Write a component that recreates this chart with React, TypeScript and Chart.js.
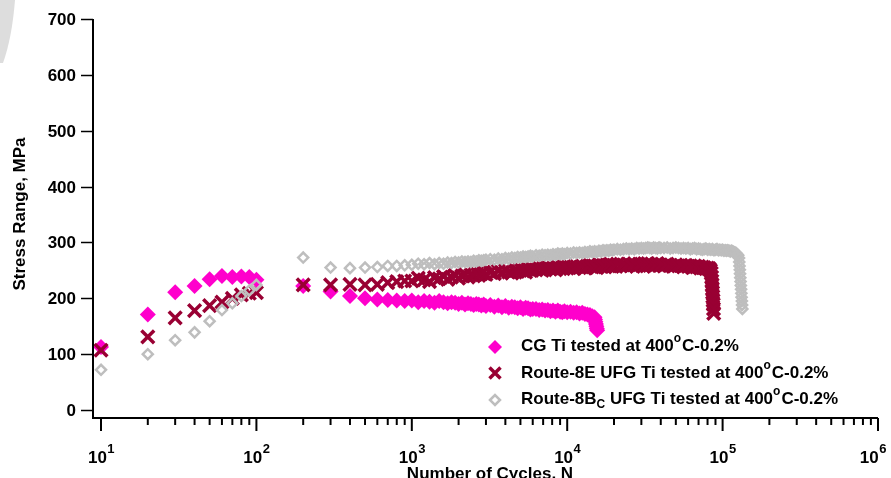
import React, { useEffect, useRef } from 'react';
import { Chart, registerables } from 'chart.js';

Chart.register(...registerables);

// Cycle counts at which stress range was logged
const earlyCycles = [10, 20, 30, 40, 50, 60, 70, 80, 90, 100, 200, 300, 400, 500, 600, 700, 800, 900];
const runCycles = [
  // 1000 – 3000
  1000, 1100, 1200, 1300, 1400, 1500, 1600, 1700, 1800, 1900, 2000,
  2100, 2200, 2300, 2400, 2500, 2600, 2700, 2800, 2900, 3000,
  // 3200 – 6000
  3200, 3400, 3600, 3800, 4000, 4200, 4400, 4600, 4800, 5000,
  5200, 5400, 5600, 5800, 6000,
  // 6300 – 10000
  6300, 6600, 6900, 7200, 7500, 7800, 8100, 8400, 8700, 9000,
  9300, 9600, 10000,
  // 10500 – 20000
  10500, 11000, 11500, 12000, 12500, 13000, 13500, 14000, 14500, 15000,
  15500, 16000, 16500, 17000, 17500, 18000, 18500, 19000, 19500, 20000,
  // 21000 – 40000
  21000, 22000, 23000, 24000, 25000, 26000, 27000, 28000, 29000, 30000,
  31000, 32000, 33000, 34000, 35000, 36000, 37000, 38000, 39000, 40000,
  // 42000 – 80000
  42000, 44000, 46000, 48000, 50000, 52000, 54000, 56000, 58000, 60000,
  62000, 64000, 66000, 68000, 70000, 72000, 74000, 76000, 78000, 80000,
  // 82000 – 126000
  82000, 84000, 86000, 88000, 90000, 92000, 94000, 96000, 98000, 100000,
  102000, 104000, 106000, 108000, 110000, 112000, 114000, 116000, 118000, 120000,
  122000, 124000, 126000,
];

// CG Ti (MPa)
const cgEarly = [113, 171, 211, 222, 234, 240, 238, 239, 238, 233, 222, 212, 204, 200, 198, 197, 196, 195];
const cgRun = [
  196, 193, 195, 194, 192, 195, 193, 191, 193, 192, 190, 192, 189, 191, 190, 188, 190, 189, 187, 189, 186,
  188, 185, 187, 184, 186, 183, 185, 184, 182, 184, 181, 183, 182, 180, 181,
  181, 179, 180, 178, 179, 177, 178, 176, 178, 176, 175, 177, 175,
  176, 174, 175, 173, 174, 172, 171, 170, 168,
];
const cgTailCycles = [15000, 15100, 15200, 15300, 15400, 15500, 15600];
const cgTailStress = [166, 162, 158, 154, 150, 146, 143];

// Route-8E UFG Ti (MPa)
const r8eEarly = [107, 131, 165, 178, 187, 193, 200, 206, 209, 210, 224, 224, 225, 224, 225, 228, 230, 231];
const r8eRun = [
  231, 236, 233, 230, 237, 235, 239, 234, 238, 241, 236, 240, 243, 238, 242, 240, 245, 241, 244, 247, 243,
  247, 244, 249, 246, 250, 247, 245, 250, 248, 252, 249, 247, 252, 250, 253,
  251, 254, 250, 253, 255, 252, 254, 251, 256, 253, 255, 257, 254,
  256, 253, 257, 255, 258, 254, 257, 259, 256, 258, 255, 260, 257, 259, 256, 260, 258, 261, 257, 259,
  261, 258, 260, 257, 261, 259, 262, 258, 260, 261, 257, 260, 262, 259, 261, 258, 260, 262, 259, 260,
  258, 261, 259, 257, 260, 258, 259, 256, 259, 257, 258, 255, 258, 256, 257, 254, 256, 255, 253, 254,
];
const r8eTailCycles = [82000, 83500, 84500, 85000, 85300, 85600, 85900, 86200, 86500, 86800, 87100, 87400, 87700];
const r8eTailStress = [253, 250, 245, 238, 231, 224, 217, 210, 203, 196, 189, 181, 173];

// Route-8Bc UFG Ti (MPa)
const r8bcEarly = [72, 100, 125, 139, 159, 179, 191, 204, 214, 224, 273, 255, 254, 255, 256, 258, 258, 259];
const r8bcRun = [
  260, 262, 261, 263, 261, 263, 262, 264, 263, 265, 264, 266, 265, 266, 265, 267, 266, 268, 267, 268, 269,
  270, 269, 271, 270, 272, 271, 273, 272, 274, 273, 275, 274, 275, 276, 275,
  277, 276, 278, 277, 278, 277, 279, 278, 280, 279, 280, 279, 281,
  280, 282, 281, 282, 281, 283, 282, 284, 283, 284, 283, 285, 284, 286, 285, 286, 285, 287, 286, 287,
  288, 287, 288, 289, 288, 289, 288, 290, 289, 290, 289, 290, 291, 290, 289, 291, 290, 289, 291, 290,
  290, 291, 289, 290, 291, 290, 289, 290, 289, 290, 288, 289, 290, 288, 289, 288, 287, 288, 289, 287,
  288, 287, 288, 286, 287, 288, 286, 287, 286, 287, 285, 286, 285, 286, 285, 284, 285, 284, 283, 282,
  281, 279, 277,
];
const r8bcTailCycles = [127500, 128000, 128500, 129000, 129500, 130000, 130500, 131000, 131500, 132000, 132500, 133000, 133500, 134000];
const r8bcTailStress = [272, 265, 258, 251, 244, 237, 230, 223, 216, 209, 202, 195, 188, 181];

// Axis ticks
const stressTicks = [0, 100, 200, 300, 400, 500, 600, 700];
const decadeExponents = [1, 2, 3, 4, 5, 6];

// Legend text, split into runs so the degree mark and subscript can be raised/lowered
type Run = { t: string; sup?: boolean; sub?: boolean };
const legendRows: Run[][] = [
  [{ t: 'CG Ti tested at 400' }, { t: 'o', sup: true }, { t: 'C-0.2%' }],
  [{ t: 'Route-8E UFG Ti tested at 400' }, { t: 'o', sup: true }, { t: 'C-0.2%' }],
  [{ t: 'Route-8B' }, { t: 'C', sub: true }, { t: ' UFG Ti tested at 400' }, { t: 'o', sup: true }, { t: 'C-0.2%' }],
];
const seriesNames = [
  'CG Ti tested at 400°C-0.2%',
  'Route-8E UFG Ti tested at 400°C-0.2%',
  'Route-8Bc UFG Ti tested at 400°C-0.2%',
];

const PINK = '#FF00CC';
const CRIMSON = '#990033';
const GRAY = '#BEBEBE';
const FONT = '"Liberation Sans", Arial, Helvetica, sans-serif';

function toPoints(cycles: number[], stress: number[]) {
  return stress.map((s, i) => ({ x: cycles[i], y: s }));
}

const allCycles = [...earlyCycles, ...runCycles];

function drawMarker(ctx: CanvasRenderingContext2D, kind: number, x: number, y: number) {
  ctx.save();
  if (kind === 0) {
    const r = 7;
    ctx.fillStyle = PINK;
    ctx.beginPath();
    ctx.moveTo(x - r, y);
    ctx.lineTo(x, y - r);
    ctx.lineTo(x + r, y);
    ctx.lineTo(x, y + r);
    ctx.closePath();
    ctx.fill();
  } else if (kind === 1) {
    const d = 5.5;
    ctx.strokeStyle = CRIMSON;
    ctx.lineWidth = 3.5;
    ctx.beginPath();
    ctx.moveTo(x - d, y - d);
    ctx.lineTo(x + d, y + d);
    ctx.moveTo(x + d, y - d);
    ctx.lineTo(x - d, y + d);
    ctx.stroke();
  } else {
    const r = 5;
    ctx.strokeStyle = GRAY;
    ctx.lineWidth = 2.5;
    ctx.beginPath();
    ctx.moveTo(x - r, y);
    ctx.lineTo(x, y - r);
    ctx.lineTo(x + r, y);
    ctx.lineTo(x, y + r);
    ctx.closePath();
    ctx.stroke();
  }
  ctx.restore();
}

const decorPlugin = {
  id: 'decor',
  afterDraw(chart: any) {
    const { ctx, chartArea, scales } = chart;
    const xs = scales.x;
    const ys = scales.y;
    const { left, right, top, bottom } = chartArea;
    ctx.save();

    // light grey corner shape
    ctx.fillStyle = '#DDDDDD';
    ctx.beginPath();
    ctx.moveTo(0, 0);
    ctx.lineTo(15, 0);
    ctx.quadraticCurveTo(12, 38, 3, 63);
    ctx.lineTo(0, 63);
    ctx.closePath();
    ctx.fill();

    ctx.strokeStyle = '#000';
    ctx.fillStyle = '#000';

    // axis lines
    ctx.lineWidth = 2;
    ctx.beginPath();
    ctx.moveTo(left, top);
    ctx.lineTo(left, bottom);
    ctx.lineTo(right, bottom);
    ctx.stroke();

    // y ticks and labels
    ctx.lineWidth = 1.5;
    ctx.font = `bold 17px ${FONT}`;
    ctx.textAlign = 'right';
    ctx.textBaseline = 'middle';
    for (const v of stressTicks) {
      const y = Math.round(ys.getPixelForValue(v)) + 0.5;
      ctx.beginPath();
      ctx.moveTo(left - 12, y);
      ctx.lineTo(left, y);
      ctx.stroke();
      ctx.fillText(String(v), left - 17, y + 1);
    }

    // x ticks (major per decade, minor at 2..9)
    ctx.lineWidth = 2;
    for (const e of decadeExponents) {
      const base = Math.pow(10, e);
      const xm = xs.getPixelForValue(base);
      ctx.beginPath();
      ctx.moveTo(xm, bottom);
      ctx.lineTo(xm, bottom + 13);
      ctx.stroke();
      if (e < 6) {
        for (let m = 2; m <= 9; m++) {
          const xn = xs.getPixelForValue(m * base);
          ctx.beginPath();
          ctx.moveTo(xn, bottom);
          ctx.lineTo(xn, bottom + 7);
          ctx.stroke();
        }
      }
    }

    // x tick labels: 10 with a raised exponent
    ctx.textAlign = 'left';
    ctx.textBaseline = 'alphabetic';
    for (const e of decadeExponents) {
      const xm = xs.getPixelForValue(Math.pow(10, e));
      ctx.font = `bold 17px ${FONT}`;
      const wBase = ctx.measureText('10').width;
      ctx.font = `bold 13px ${FONT}`;
      const wExp = ctx.measureText(String(e)).width;
      let x0 = xm - (wBase + wExp) / 2;
      if (x0 + wBase + wExp > 886) x0 = 886 - wBase - wExp;
      ctx.font = `bold 17px ${FONT}`;
      ctx.fillText('10', x0, 463);
      ctx.font = `bold 13px ${FONT}`;
      ctx.fillText(String(e), x0 + wBase + 0.5, 453);
    }

    // axis titles
    ctx.font = `bold 17px ${FONT}`;
    ctx.textAlign = 'center';
    ctx.fillText('Number of Cycles, N', 490, 479);
    ctx.save();
    ctx.translate(25, 214);
    ctx.rotate(-Math.PI / 2);
    ctx.fillText('Stress Range, MPa', 0, 0);
    ctx.restore();

    // legend
    const markerY = [347, 373, 400];
    const baselines = [351, 378, 404];
    ctx.textAlign = 'left';
    legendRows.forEach((row, i) => {
      drawMarker(ctx, i, 495, markerY[i]);
      let x = 521;
      for (const run of row) {
        const small = run.sup || run.sub;
        ctx.font = small ? `bold 12px ${FONT}` : `bold 17px ${FONT}`;
        const dy = run.sup ? -9 : run.sub ? 4 : 0;
        ctx.fillText(run.t, x, baselines[i] + dy);
        x += ctx.measureText(run.t).width + (run.sup ? 1 : 0);
      }
    });

    ctx.restore();
  },
};

export default function App() {
  const canvasRef = useRef<HTMLCanvasElement | null>(null);

  useEffect(() => {
    const canvas = canvasRef.current;
    if (!canvas) return;

    const chart = new Chart(canvas, {
      type: 'scatter',
      data: {
        datasets: [
          {
            label: seriesNames[0],
            data: [
              ...toPoints(allCycles, [...cgEarly, ...cgRun]),
              ...toPoints(cgTailCycles, cgTailStress),
            ],
            pointStyle: 'rectRot',
            pointRadius: 8,
            backgroundColor: PINK,
            borderColor: PINK,
            borderWidth: 0,
            order: 3,
          },
          {
            label: seriesNames[1],
            data: [
              ...toPoints(allCycles, [...r8eEarly, ...r8eRun]),
              ...toPoints(r8eTailCycles, r8eTailStress),
            ],
            pointStyle: 'crossRot',
            pointRadius: 9,
            backgroundColor: CRIMSON,
            borderColor: CRIMSON,
            borderWidth: 3.5,
            order: 2,
          },
          {
            label: seriesNames[2],
            data: [
              ...toPoints(allCycles, [...r8bcEarly, ...r8bcRun]),
              ...toPoints(r8bcTailCycles, r8bcTailStress),
            ],
            pointStyle: 'rectRot',
            pointRadius: 5,
            backgroundColor: 'rgba(255,255,255,0)',
            borderColor: GRAY,
            borderWidth: 2.5,
            order: 1,
          },
        ],
      },
      options: {
        responsive: false,
        animation: false,
        events: [],
        devicePixelRatio: 1,
        layout: { padding: { left: 0, right: 13, top: 19, bottom: 0 } },
        plugins: {
          legend: { display: false },
          tooltip: { enabled: false },
          title: { display: false },
        },
        scales: {
          x: {
            type: 'logarithmic',
            min: 8.88,
            max: 1e6,
            grid: { display: false },
            border: { display: false },
            ticks: { display: false },
            afterFit: (scale: any) => {
              scale.height = 60;
            },
          },
          y: {
            type: 'linear',
            min: -14.3,
            max: 700,
            grid: { display: false },
            border: { display: false },
            ticks: { display: false },
            afterFit: (scale: any) => {
              scale.width = 93;
            },
          },
        },
      },
      plugins: [decorPlugin],
    });

    return () => chart.destroy();
  }, []);

  return (
    <div style={{ position: 'fixed', left: 0, top: 0, width: 891, height: 478, background: '#fff' }}>
      <canvas ref={canvasRef} width={891} height={478} style={{ width: 891, height: 478, display: 'block' }} />
    </div>
  );
}
